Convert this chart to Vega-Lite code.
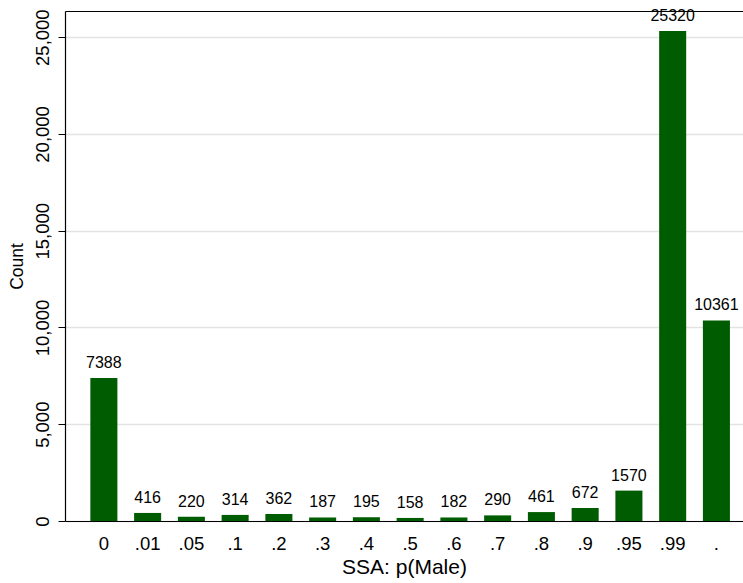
{
  "$schema": "https://vega.github.io/schema/vega-lite/v6.json",
  "autosize": {"type": "none"},
  "padding": {"left": 65, "top": 11, "right": 0, "bottom": 62},
  "width": 678,
  "height": 510,
  "background": "white",
  "config": {
    "view": {"stroke": null},
    "font": "Liberation Sans"
  },
  "data": {
    "values": [
      {"p": "0", "count": 7388},
      {"p": ".01", "count": 416},
      {"p": ".05", "count": 220},
      {"p": ".1", "count": 314},
      {"p": ".2", "count": 362},
      {"p": ".3", "count": 187},
      {"p": ".4", "count": 195},
      {"p": ".5", "count": 158},
      {"p": ".6", "count": 182},
      {"p": ".7", "count": 290},
      {"p": ".8", "count": 461},
      {"p": ".9", "count": 672},
      {"p": ".95", "count": 1570},
      {"p": ".99", "count": 25320},
      {"p": ".", "count": 10361}
    ]
  },
  "resolve": {"axis": {"x": "independent"}},
  "layer": [
    {
      "mark": {"type": "bar", "color": "#005c00"},
      "encoding": {
        "x": {
          "field": "p", "type": "nominal", "sort": null,
          "scale": {"paddingInner": 0.382, "paddingOuter": 0.439, "align": 0.66},
          "axis": {
            "title": "SSA: p(Male)", "titleFontSize": 21, "titleFontWeight": "normal", "titleColor": "black",
            "titlePadding": 4,
            "labelAngle": 0, "labelFontSize": 18.5, "labelColor": "black", "labelPadding": 13,
            "ticks": false, "domainColor": "black", "domainWidth": 1.2, "grid": false
          }
        },
        "y": {
          "field": "count", "type": "quantitative",
          "scale": {"domain": [0, 26350], "nice": false},
          "axis": {
            "title": "Count", "titleFontSize": 17.5, "titleFontWeight": "normal", "titleColor": "black",
            "titlePadding": 7,
            "values": [0, 5000, 10000, 15000, 20000, 25000], "format": ",.0f",
            "labelAngle": -90, "labelAlign": "center", "labelBaseline": "bottom",
            "labelFontSize": 18.5, "labelColor": "black", "labelPadding": 6,
            "tickSize": 7, "tickColor": "black", "domainColor": "black", "domainWidth": 1.2,
            "grid": true, "gridColor": "#e3e3e3", "gridWidth": 1.5
          }
        }
      }
    },
    {
      "mark": {"type": "text", "baseline": "bottom", "dy": -7, "fontSize": 16, "color": "black"},
      "encoding": {
        "x": {
          "field": "p", "type": "nominal", "sort": null,
          "axis": {"orient": "top", "title": null, "labels": false, "ticks": false, "domainColor": "black", "domainWidth": 1.2, "grid": false}
        },
        "y": {"field": "count", "type": "quantitative", "axis": {"format": ",.0f"}},
        "text": {"field": "count", "type": "quantitative", "format": ".0f"}
      }
    }
  ]
}
